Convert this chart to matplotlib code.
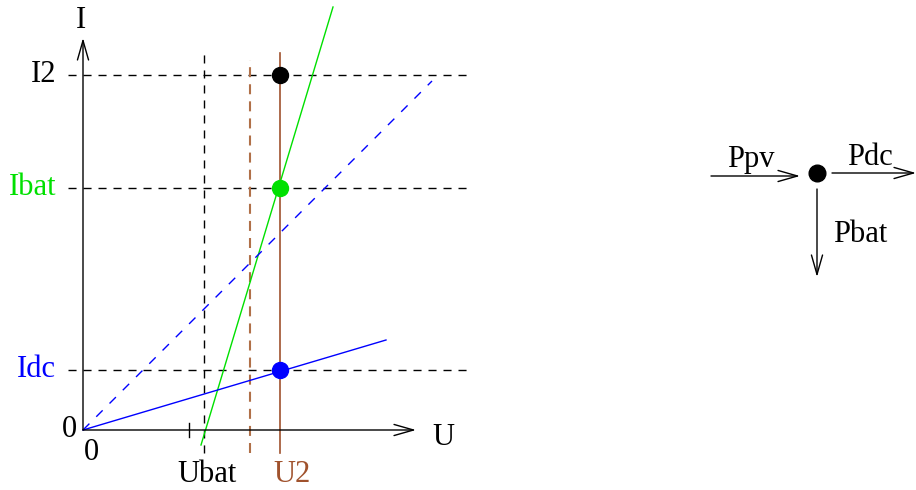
import matplotlib.pyplot as plt

# U-I frame, origin of the plot at (0, 0)
levels = [355, 242, 60]               # I2, Ibat, Idc
level_names = ["I2", "Ibat", "Idc"]
level_colors = ["black", "#00e000", "blue"]

u_bat = 121
u_mid = 167      # brown dashed
u_2 = 197
u_tick = 106

green_u = [118, 250]
green_i = [-15, 423]
dash_u = [0, 349]
dash_i = [0, 349]
dc_u = [0, 303]
dc_i = [0, 90]

# power node on the right
node = (734, 257)

BROWN = "#a0522d"
plt.rcParams['font.family'] = ['Liberation Serif', 'DejaVu Serif']
FS = 22

fig = plt.figure(figsize=(9.16, 4.90), dpi=100)
ax = fig.add_axes([0, 0, 1, 1])
ax.set_xlim(-83, 833)
ax.set_ylim(-60, 430)
ax.axis('off')

arr = dict(arrowstyle='->,head_length=1.4,head_width=0.4', lw=1, color='black',
           shrinkA=0, shrinkB=0)

# axes with open arrows
ax.annotate('', xy=(333, 0), xytext=(0, 0), arrowprops=arr)
ax.annotate('', xy=(0, 392), xytext=(0, 0), arrowprops=arr)
ax.plot([u_tick, u_tick], [-7, 7], color='black', lw=1)

# horizontal levels
for lv, name, c in zip(levels, level_names, level_colors):
    ax.plot([-15, 390], [lv, lv], color='black', lw=1, dashes=(5.8, 5))
    ax.text(-27, lv - 7, name, color=c, fontsize=FS, ha='right', va='baseline')

# vertical lines
ax.plot([u_bat, u_bat], [-23, 378], color='black', lw=1, dashes=(5.8, 5))
ax.plot([u_mid, u_mid], [-23, 370], color='#b07048', lw=1.5, dashes=(4.8, 3.4))
ax.plot([u_2, u_2], [-23, 377], color=BROWN, lw=1.2)

# characteristics
ax.plot(green_u, green_i, color='#00e000', lw=1)
ax.plot(dash_u, dash_i, color='blue', lw=1, dashes=(6.5, 7))
ax.plot(dc_u, dc_i, color='blue', lw=1)

# operating points
ax.plot([u_2], [levels[0]], 'o', color='black', ms=11.5, zorder=5)
ax.plot([u_2], [levels[1]], 'o', color='#00e000', ms=11.5, zorder=5)
ax.plot([u_2], [levels[2]], 'o', color='blue', ms=11.5, zorder=5)

# axis labels
ax.text(-2, 402, "I", fontsize=FS, ha='center', va='baseline')
ax.text(360, -15, "U", fontsize=FS, ha='center', va='baseline')
ax.text(-14, -7, "0", fontsize=FS, ha='center', va='baseline')
ax.text(8, -30, "0", fontsize=FS, ha='center', va='baseline')
ax.text(124, -52, "Ubat", fontsize=FS, ha='center', va='baseline')
ax.text(209, -52, "U2", fontsize=FS, color=BROWN, ha='center', va='baseline')

# power flow diagram
nx, ny = node
ax.plot([nx], [ny], 'o', color='black', ms=12)
ax.annotate('', xy=(nx - 17, ny - 3), xytext=(nx - 106, ny - 3), arrowprops=arr)
ax.annotate('', xy=(nx + 99, ny), xytext=(nx + 15, ny), arrowprops=arr)
ax.annotate('', xy=(nx, ny - 104), xytext=(nx, ny - 16), arrowprops=arr)
ax.text(nx - 66, ny + 6, "Ppv", fontsize=FS, ha='center', va='baseline')
ax.text(nx + 53, ny + 8, "Pdc", fontsize=FS, ha='center', va='baseline')
ax.text(nx + 43, ny - 69, "Pbat", fontsize=FS, ha='center', va='baseline')

fig.savefig("out.png", dpi=100)
